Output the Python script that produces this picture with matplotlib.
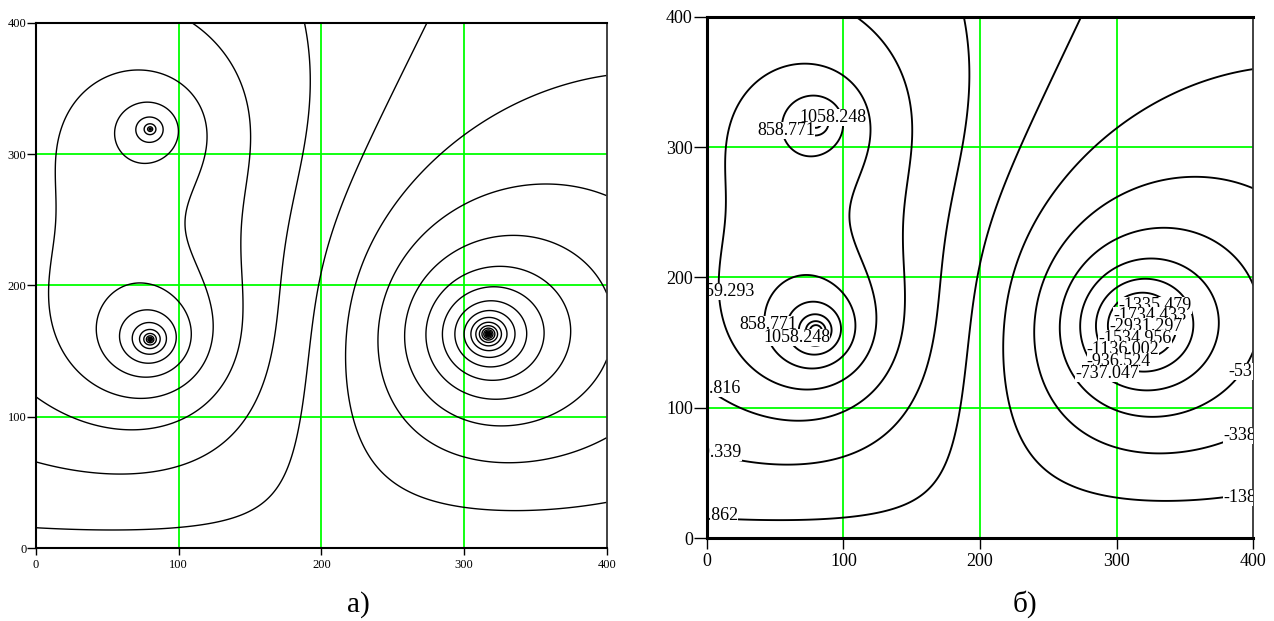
import numpy as np
import matplotlib
matplotlib.use("Agg")
import matplotlib.pyplot as plt

# point charges over a grounded plane y = 0 (values read/fitted from the picture)
CHARGE_X = [80.0, 80.0, 317.0]
CHARGE_Y = [319.0, 159.0, 163.0]
CHARGE_Q = [237.0, 397.0, -582.5]

# contour levels (equal step 199.477, as labelled on plot б)
LEVELS = [
    -3928.683, -3729.205, -3529.728, -3330.251, -3130.774, -2931.297,
    -2731.819, -2532.342, -2332.865, -2133.388, -1933.910, -1734.433,
    -1534.956, -1335.479, -1136.002, -936.524, -737.047, -537.570,
    -338.093, -138.616, 60.862, 260.339, 459.816, 659.293, 858.771,
    1058.248, 1257.725, 1457.202, 1656.680, 1856.157, 2055.634,
    2255.111, 2454.589, 2654.066, 2853.543, 3053.020, 3252.497,
]
LEVELS_B = LEVELS[5:29]

TICKS = [0, 100, 200, 300, 400]
GRID = [100, 200, 300]

# labels on plot б: (text, x, y, ha)
LABELS_B = [
    ("1058.248", 67.8, 322.7, "left"),
    ("858.771", 37.0, 312.9, "left"),
    ("659.293", 35.3, 189.3, "right"),
    ("858.771", 23.9, 164.3, "left"),
    ("1058.248", 41.4, 154.0, "left"),
    ("459.816", 25.3, 115.0, "right"),
    ("260.339", 25.6, 65.8, "right"),
    ("60.862", 23.2, 17.3, "right"),
    ("-1335.479", 301.2, 178.9, "left"),
    ("-1734.433", 297.5, 170.5, "left"),
    ("-2931.297", 295.0, 162.3, "left"),
    ("-1534.956", 286.5, 153.4, "left"),
    ("-1136.002", 278.0, 144.6, "left"),
    ("-936.524", 278.0, 135.4, "left"),
    ("-737.047", 269.5, 126.2, "left"),
    ("-537.570", 381.6, 127.8, "left"),
    ("-338.093", 378.0, 78.6, "left"),
    ("-138.616", 378.0, 31.3, "left"),
]

SERIF = "Liberation Serif"
GREEN = "#00ff00"

xs = np.linspace(0, 400, 801)
X, Y = np.meshgrid(xs, xs)
Z = np.zeros_like(X)
for cx, cy, q in zip(CHARGE_X, CHARGE_Y, CHARGE_Q):
    d2 = (X - cx) ** 2 + (Y - cy) ** 2 + 1e-4
    d2img = (X - cx) ** 2 + (Y + cy) ** 2
    Z += 0.5 * q * np.log(d2img / d2)

fig = plt.figure(figsize=(12.74, 6.21), dpi=100, facecolor="white")
ax1 = fig.add_axes([0.02826, 0.1171, 0.4480, 0.8464])
ax2 = fig.add_axes([0.5547, 0.1332, 0.4291, 0.8399])


def frame(ax, fs, tick_len, lw_main, lw_right):
    ax.set_xlim(0, 400)
    ax.set_ylim(0, 400)
    ax.set_xticks(TICKS)
    ax.set_yticks(TICKS)
    ax.set_xticklabels([str(t) for t in TICKS], family=SERIF, fontsize=fs)
    ax.set_yticklabels([str(t) for t in TICKS], family=SERIF, fontsize=fs)
    ax.tick_params(axis="y", length=tick_len, width=1, pad=0.5, direction="out")
    ax.tick_params(axis="x", length=tick_len * 0.8, width=1, pad=3, direction="out")
    for g in GRID:
        ax.axvline(g, color=GREEN, lw=1.3, zorder=1)
        ax.axhline(g, color=GREEN, lw=1.3, zorder=1)
    for side in ["left", "top", "bottom"]:
        ax.spines[side].set_linewidth(lw_main)
        ax.spines[side].set_zorder(5)
    ax.spines["right"].set_linewidth(lw_right)
    ax.spines["right"].set_color("#333333")


# a)
ax1.contour(X, Y, Z, levels=LEVELS, colors="black", linewidths=1.0,
            negative_linestyles="solid", zorder=2)
frame(ax1, 9, 6.3, 1.5, 1.3)

# б)
ax2.contour(X, Y, Z, levels=LEVELS_B, colors="black", linewidths=1.35,
            negative_linestyles="solid", zorder=2)
ax2.axhline(0, color=GREEN, lw=1.3, zorder=1)
frame(ax2, 13, 9.5, 2.2, 1.3)
for txt, x, y, ha in LABELS_B:
    t = ax2.text(x, y, txt, ha=ha, va="center", family=SERIF, fontsize=13,
                 zorder=3, clip_on=True,
                 bbox=dict(facecolor="white", edgecolor="none", pad=0.0))
    t.set_clip_box(ax2.bbox)

fig.text(358 / 1274, 1 - 605 / 621, "а)", ha="center", va="center",
         family=SERIF, fontsize=21)
fig.text(1025 / 1274, 1 - 604 / 621, "б)", ha="center", va="center",
         family=SERIF, fontsize=21)

fig.savefig("out.png", dpi=100, facecolor="white")
